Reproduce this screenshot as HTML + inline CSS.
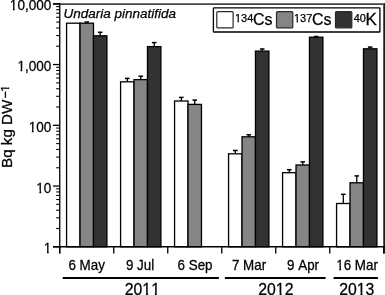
<!DOCTYPE html>
<html><head><meta charset="utf-8"><style>
html,body{margin:0;padding:0;background:#fff;}
svg{display:block;filter:grayscale(1);font-family:"Liberation Sans",sans-serif;font-kerning:none;}
text{stroke:#000;stroke-width:0.25px;}
</style></head><body>
<svg width="385" height="295" viewBox="0 0 385 295">
<rect width="385" height="295" fill="#fff"/>
<rect x="66.58" y="23.20" width="13.45" height="223.60" fill="#ffffff" stroke="#000" stroke-width="1.3"/>
<line x1="86.75" y1="23.20" x2="86.75" y2="22.00" stroke="#000" stroke-width="1.3"/>
<line x1="84.45" y1="22.00" x2="89.05" y2="22.00" stroke="#000" stroke-width="1.5"/>
<rect x="80.03" y="23.20" width="13.45" height="223.60" fill="#858585" stroke="#000" stroke-width="1.3"/>
<line x1="100.20" y1="35.80" x2="100.20" y2="32.30" stroke="#000" stroke-width="1.3"/>
<line x1="97.90" y1="32.30" x2="102.50" y2="32.30" stroke="#000" stroke-width="1.5"/>
<rect x="93.47" y="35.80" width="13.45" height="211.00" fill="#323232" stroke="#000" stroke-width="1.3"/>
<line x1="127.30" y1="81.80" x2="127.30" y2="78.40" stroke="#000" stroke-width="1.3"/>
<line x1="125.00" y1="78.40" x2="129.60" y2="78.40" stroke="#000" stroke-width="1.5"/>
<rect x="120.58" y="81.80" width="13.45" height="165.00" fill="#ffffff" stroke="#000" stroke-width="1.3"/>
<line x1="140.75" y1="79.60" x2="140.75" y2="76.20" stroke="#000" stroke-width="1.3"/>
<line x1="138.45" y1="76.20" x2="143.05" y2="76.20" stroke="#000" stroke-width="1.5"/>
<rect x="134.03" y="79.60" width="13.45" height="167.20" fill="#858585" stroke="#000" stroke-width="1.3"/>
<line x1="154.20" y1="46.60" x2="154.20" y2="42.60" stroke="#000" stroke-width="1.3"/>
<line x1="151.90" y1="42.60" x2="156.50" y2="42.60" stroke="#000" stroke-width="1.5"/>
<rect x="147.47" y="46.60" width="13.45" height="200.20" fill="#323232" stroke="#000" stroke-width="1.3"/>
<line x1="181.30" y1="101.00" x2="181.30" y2="97.40" stroke="#000" stroke-width="1.3"/>
<line x1="179.00" y1="97.40" x2="183.60" y2="97.40" stroke="#000" stroke-width="1.5"/>
<rect x="174.57" y="101.00" width="13.45" height="145.80" fill="#ffffff" stroke="#000" stroke-width="1.3"/>
<line x1="194.75" y1="104.40" x2="194.75" y2="100.10" stroke="#000" stroke-width="1.3"/>
<line x1="192.45" y1="100.10" x2="197.05" y2="100.10" stroke="#000" stroke-width="1.5"/>
<rect x="188.02" y="104.40" width="13.45" height="142.40" fill="#858585" stroke="#000" stroke-width="1.3"/>
<line x1="235.30" y1="153.80" x2="235.30" y2="150.50" stroke="#000" stroke-width="1.3"/>
<line x1="233.00" y1="150.50" x2="237.60" y2="150.50" stroke="#000" stroke-width="1.5"/>
<rect x="228.57" y="153.80" width="13.45" height="93.00" fill="#ffffff" stroke="#000" stroke-width="1.3"/>
<line x1="248.75" y1="136.80" x2="248.75" y2="134.80" stroke="#000" stroke-width="1.3"/>
<line x1="246.45" y1="134.80" x2="251.05" y2="134.80" stroke="#000" stroke-width="1.5"/>
<rect x="242.02" y="136.80" width="13.45" height="110.00" fill="#858585" stroke="#000" stroke-width="1.3"/>
<line x1="262.20" y1="51.10" x2="262.20" y2="49.00" stroke="#000" stroke-width="1.3"/>
<line x1="259.90" y1="49.00" x2="264.50" y2="49.00" stroke="#000" stroke-width="1.5"/>
<rect x="255.47" y="51.10" width="13.45" height="195.70" fill="#323232" stroke="#000" stroke-width="1.3"/>
<line x1="289.30" y1="172.70" x2="289.30" y2="169.70" stroke="#000" stroke-width="1.3"/>
<line x1="287.00" y1="169.70" x2="291.60" y2="169.70" stroke="#000" stroke-width="1.5"/>
<rect x="282.57" y="172.70" width="13.45" height="74.10" fill="#ffffff" stroke="#000" stroke-width="1.3"/>
<line x1="302.75" y1="165.00" x2="302.75" y2="161.90" stroke="#000" stroke-width="1.3"/>
<line x1="300.45" y1="161.90" x2="305.05" y2="161.90" stroke="#000" stroke-width="1.5"/>
<rect x="296.02" y="165.00" width="13.45" height="81.80" fill="#858585" stroke="#000" stroke-width="1.3"/>
<line x1="316.20" y1="37.20" x2="316.20" y2="36.50" stroke="#000" stroke-width="1.3"/>
<line x1="313.90" y1="36.50" x2="318.50" y2="36.50" stroke="#000" stroke-width="1.5"/>
<rect x="309.47" y="37.20" width="13.45" height="209.60" fill="#323232" stroke="#000" stroke-width="1.3"/>
<line x1="343.30" y1="203.50" x2="343.30" y2="194.30" stroke="#000" stroke-width="1.3"/>
<line x1="341.00" y1="194.30" x2="345.60" y2="194.30" stroke="#000" stroke-width="1.5"/>
<rect x="336.57" y="203.50" width="13.45" height="43.30" fill="#ffffff" stroke="#000" stroke-width="1.3"/>
<line x1="356.75" y1="182.80" x2="356.75" y2="175.90" stroke="#000" stroke-width="1.3"/>
<line x1="354.45" y1="175.90" x2="359.05" y2="175.90" stroke="#000" stroke-width="1.5"/>
<rect x="350.02" y="182.80" width="13.45" height="64.00" fill="#858585" stroke="#000" stroke-width="1.3"/>
<line x1="370.20" y1="48.80" x2="370.20" y2="47.10" stroke="#000" stroke-width="1.3"/>
<line x1="367.90" y1="47.10" x2="372.50" y2="47.10" stroke="#000" stroke-width="1.5"/>
<rect x="363.47" y="48.80" width="13.45" height="198.00" fill="#323232" stroke="#000" stroke-width="1.3"/>
<line x1="53.00" y1="4.10" x2="385.00" y2="4.10" stroke="#454545" stroke-width="1.8"/>
<line x1="59.75" y1="3.05" x2="59.75" y2="253.50" stroke="#000" stroke-width="1.3"/>
<rect x="383" y="3.30" width="1" height="250.20" fill="#5a5a5a"/>
<rect x="384" y="3.30" width="1" height="250.20" fill="#202020"/>
<line x1="53.00" y1="246.80" x2="384.75" y2="246.80" stroke="#000" stroke-width="1.5"/>
<line x1="53.00" y1="246.80" x2="59.75" y2="246.80" stroke="#000" stroke-width="1.3"/>
<line x1="56.20" y1="228.51" x2="59.75" y2="228.51" stroke="#000" stroke-width="1.1"/>
<line x1="56.20" y1="217.81" x2="59.75" y2="217.81" stroke="#000" stroke-width="1.1"/>
<line x1="56.20" y1="210.22" x2="59.75" y2="210.22" stroke="#000" stroke-width="1.1"/>
<line x1="56.20" y1="204.34" x2="59.75" y2="204.34" stroke="#000" stroke-width="1.1"/>
<line x1="56.20" y1="199.53" x2="59.75" y2="199.53" stroke="#000" stroke-width="1.1"/>
<line x1="56.20" y1="195.46" x2="59.75" y2="195.46" stroke="#000" stroke-width="1.1"/>
<line x1="56.20" y1="191.94" x2="59.75" y2="191.94" stroke="#000" stroke-width="1.1"/>
<line x1="56.20" y1="188.83" x2="59.75" y2="188.83" stroke="#000" stroke-width="1.1"/>
<line x1="53.00" y1="186.05" x2="59.75" y2="186.05" stroke="#000" stroke-width="1.3"/>
<line x1="56.20" y1="167.76" x2="59.75" y2="167.76" stroke="#000" stroke-width="1.1"/>
<line x1="56.20" y1="157.06" x2="59.75" y2="157.06" stroke="#000" stroke-width="1.1"/>
<line x1="56.20" y1="149.47" x2="59.75" y2="149.47" stroke="#000" stroke-width="1.1"/>
<line x1="56.20" y1="143.59" x2="59.75" y2="143.59" stroke="#000" stroke-width="1.1"/>
<line x1="56.20" y1="138.78" x2="59.75" y2="138.78" stroke="#000" stroke-width="1.1"/>
<line x1="56.20" y1="134.71" x2="59.75" y2="134.71" stroke="#000" stroke-width="1.1"/>
<line x1="56.20" y1="131.19" x2="59.75" y2="131.19" stroke="#000" stroke-width="1.1"/>
<line x1="56.20" y1="128.08" x2="59.75" y2="128.08" stroke="#000" stroke-width="1.1"/>
<line x1="53.00" y1="125.30" x2="59.75" y2="125.30" stroke="#000" stroke-width="1.3"/>
<line x1="56.20" y1="107.01" x2="59.75" y2="107.01" stroke="#000" stroke-width="1.1"/>
<line x1="56.20" y1="96.31" x2="59.75" y2="96.31" stroke="#000" stroke-width="1.1"/>
<line x1="56.20" y1="88.72" x2="59.75" y2="88.72" stroke="#000" stroke-width="1.1"/>
<line x1="56.20" y1="82.84" x2="59.75" y2="82.84" stroke="#000" stroke-width="1.1"/>
<line x1="56.20" y1="78.03" x2="59.75" y2="78.03" stroke="#000" stroke-width="1.1"/>
<line x1="56.20" y1="73.96" x2="59.75" y2="73.96" stroke="#000" stroke-width="1.1"/>
<line x1="56.20" y1="70.44" x2="59.75" y2="70.44" stroke="#000" stroke-width="1.1"/>
<line x1="56.20" y1="67.33" x2="59.75" y2="67.33" stroke="#000" stroke-width="1.1"/>
<line x1="53.00" y1="64.55" x2="59.75" y2="64.55" stroke="#000" stroke-width="1.3"/>
<line x1="56.20" y1="46.26" x2="59.75" y2="46.26" stroke="#000" stroke-width="1.1"/>
<line x1="56.20" y1="35.56" x2="59.75" y2="35.56" stroke="#000" stroke-width="1.1"/>
<line x1="56.20" y1="27.97" x2="59.75" y2="27.97" stroke="#000" stroke-width="1.1"/>
<line x1="56.20" y1="22.09" x2="59.75" y2="22.09" stroke="#000" stroke-width="1.1"/>
<line x1="56.20" y1="17.28" x2="59.75" y2="17.28" stroke="#000" stroke-width="1.1"/>
<line x1="56.20" y1="13.21" x2="59.75" y2="13.21" stroke="#000" stroke-width="1.1"/>
<line x1="56.20" y1="9.69" x2="59.75" y2="9.69" stroke="#000" stroke-width="1.1"/>
<line x1="56.20" y1="6.58" x2="59.75" y2="6.58" stroke="#000" stroke-width="1.1"/>
<line x1="53.00" y1="3.80" x2="59.75" y2="3.80" stroke="#000" stroke-width="1.3"/>
<g transform="translate(43.84,253.45) scale(0.985,1.055)"><text font-size="13.8">1</text><rect x="0.15" y="-2.33" width="3.02" height="3.63" fill="#fff" stroke="none"/><rect x="4.99" y="-2.33" width="2.91" height="3.63" fill="#fff" stroke="none"/></g>
<g transform="translate(36.28,192.70) scale(0.985,1.055)"><text font-size="13.8">10</text><rect x="0.15" y="-2.33" width="3.02" height="3.63" fill="#fff" stroke="none"/><rect x="4.99" y="-2.33" width="2.61" height="3.63" fill="#fff" stroke="none"/></g>
<g transform="translate(28.72,131.95) scale(0.985,1.055)"><text font-size="13.8">100</text><rect x="0.15" y="-2.33" width="3.02" height="3.63" fill="#fff" stroke="none"/><rect x="4.99" y="-2.33" width="2.61" height="3.63" fill="#fff" stroke="none"/></g>
<g transform="translate(17.38,71.20) scale(0.985,1.055)"><text font-size="13.8">1,000</text><rect x="0.15" y="-2.33" width="3.02" height="3.63" fill="#fff" stroke="none"/><rect x="4.99" y="-2.33" width="2.61" height="3.63" fill="#fff" stroke="none"/></g>
<g transform="translate(9.82,10.45) scale(0.985,1.055)"><text font-size="13.8">10,000</text><rect x="0.15" y="-2.33" width="3.02" height="3.63" fill="#fff" stroke="none"/><rect x="4.99" y="-2.33" width="2.61" height="3.63" fill="#fff" stroke="none"/></g>
<line x1="59.75" y1="246.80" x2="59.75" y2="253.50" stroke="#000" stroke-width="1.3"/>
<line x1="113.75" y1="246.80" x2="113.75" y2="253.50" stroke="#000" stroke-width="1.3"/>
<line x1="167.75" y1="246.80" x2="167.75" y2="253.50" stroke="#000" stroke-width="1.3"/>
<line x1="221.75" y1="246.80" x2="221.75" y2="253.50" stroke="#000" stroke-width="1.3"/>
<line x1="275.75" y1="246.80" x2="275.75" y2="253.50" stroke="#000" stroke-width="1.3"/>
<line x1="329.75" y1="246.80" x2="329.75" y2="253.50" stroke="#000" stroke-width="1.3"/>
<line x1="383.75" y1="246.80" x2="383.75" y2="253.50" stroke="#000" stroke-width="1.3"/>
<g transform="translate(68.40,269.70) scale(1.0,1.04)"><text font-size="13.4">6 May</text></g>
<g transform="translate(125.90,269.70) scale(1.0,1.04)"><text font-size="13.4">9 Jul</text></g>
<g transform="translate(177.54,269.70) scale(1.0,1.04)"><text font-size="13.4">6 Sep</text></g>
<g transform="translate(231.92,269.70) scale(1.0,1.04)"><text font-size="13.4">7 Mar</text></g>
<g transform="translate(287.04,269.70) scale(1.0,1.04)"><text font-size="13.4">9 Apr</text></g>
<g transform="translate(336.20,269.70) scale(1.0,1.04)"><text font-size="13.4">16 Mar</text><rect x="0.12" y="-2.30" width="2.95" height="3.60" fill="#fff" stroke="none"/><rect x="4.85" y="-2.30" width="2.54" height="3.60" fill="#fff" stroke="none"/></g>
<line x1="62.70" y1="278.00" x2="218.90" y2="278.00" stroke="#000" stroke-width="2"/>
<line x1="224.90" y1="278.00" x2="325.60" y2="278.00" stroke="#000" stroke-width="2"/>
<line x1="333.60" y1="278.00" x2="377.90" y2="278.00" stroke="#000" stroke-width="2"/>
<g transform="translate(124.80,295.20) scale(1.0,1.08)"><text font-size="15.8">2011</text><rect x="17.88" y="-2.48" width="3.37" height="3.78" fill="#fff" stroke="none"/><rect x="23.24" y="-2.48" width="2.95" height="3.78" fill="#fff" stroke="none"/><rect x="26.67" y="-2.48" width="3.37" height="3.78" fill="#fff" stroke="none"/><rect x="32.03" y="-2.48" width="3.25" height="3.78" fill="#fff" stroke="none"/></g>
<g transform="translate(258.30,295.20) scale(1.0,1.08)"><text font-size="15.8">2012</text><rect x="17.88" y="-2.48" width="3.37" height="3.78" fill="#fff" stroke="none"/><rect x="23.24" y="-2.48" width="2.95" height="3.78" fill="#fff" stroke="none"/></g>
<g transform="translate(339.20,295.20) scale(1.0,1.08)"><text font-size="15.8">2013</text><rect x="17.88" y="-2.48" width="3.37" height="3.78" fill="#fff" stroke="none"/><rect x="23.24" y="-2.48" width="2.95" height="3.78" fill="#fff" stroke="none"/></g>
<g transform="translate(63.50,18.30)"><text font-size="13.5" font-style="italic">Undaria pinnatifida</text></g>
<rect x="213.4" y="7.8" width="166.5" height="24.2" rx="0.6" fill="#fff" stroke="#000" stroke-width="1.3"/>
<rect x="216.8" y="11.7" width="16.3" height="16.1" rx="0.9" fill="#ffffff" stroke="#2a2a2a" stroke-width="1.2"/>
<rect x="276.5" y="11.7" width="16.3" height="16.1" rx="0.9" fill="#858585" stroke="#2a2a2a" stroke-width="1.2"/>
<rect x="335.5" y="11.7" width="16.3" height="16.1" rx="0.9" fill="#323232" stroke="#2a2a2a" stroke-width="1.2"/>
<g transform="translate(235.00,22.30)"><text font-size="11">134</text><rect x="-0.06" y="-2.12" width="2.53" height="3.42" fill="#fff" stroke="none"/><rect x="4.04" y="-2.12" width="2.14" height="3.42" fill="#fff" stroke="none"/></g>
<g transform="translate(253.00,25.30)"><text font-size="16">Cs</text></g>
<g transform="translate(294.00,22.30)"><text font-size="11">137</text><rect x="-0.06" y="-2.12" width="2.53" height="3.42" fill="#fff" stroke="none"/><rect x="4.04" y="-2.12" width="2.14" height="3.42" fill="#fff" stroke="none"/></g>
<g transform="translate(312.00,25.30)"><text font-size="16">Cs</text></g>
<g transform="translate(353.65,22.30)"><text font-size="11">40</text></g>
<g transform="translate(365.60,25.30) scale(1.06,1.0)"><text font-size="16">K</text></g>
<g transform="translate(11.9,167.95) rotate(-90)"><text x="0" y="0" font-size="15.2">Bq kg DW</text><text transform="translate(69.49,-1.56) scale(1.07,1.2)" font-size="11.5">&#8722;</text><g transform="translate(76.3,-2.9)"><text font-size="11.5">1</text><rect x="-0.02" y="-2.16" width="2.62" height="3.46" fill="#fff" stroke="none"/><rect x="4.21" y="-2.16" width="2.53" height="3.46" fill="#fff" stroke="none"/></g></g>
</svg>
</body></html>
